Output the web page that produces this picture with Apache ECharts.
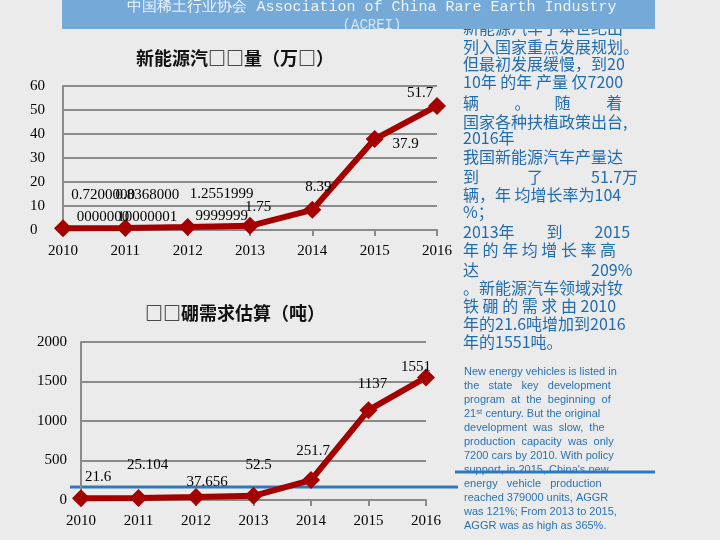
<!DOCTYPE html>
<html><head><meta charset="utf-8">
<script src="https://cdn.jsdelivr.net/npm/echarts@6/dist/echarts.min.js"></script>
<style>html,body{margin:0;padding:0;background:#ebebeb;}#c{width:720px;height:540px;}</style>
</head><body><div id="c"></div>
<script>
const years = ['2010','2011','2012','2013','2014','2015','2016'];
const evOutput = [0.72, 0.8368, 1.2552, 1.75, 8.39, 37.9, 51.7];
const evLabels = ['0.7200000\n0000000','0.8368000\n10000001','1.2551999\n9999999','1.75','8.39','37.9','51.7'];
const ndfebDemand = [21.6, 25.104, 37.656, 52.5, 251.7, 1137, 1551];
const ndfebLabels = ['21.6','25.104','37.656','52.5','251.7','1137','1551'];
const topTicks = [0,10,20,30,40,50,60];
const botTicks = [0,500,1000,1500,2000];

const evOffsets = [[40,14],[22,14],[34,14],[8,6],[6,2],[31,30],[-17,12]];
const ndOffsets = [[17,4],[9,-8],[11,10],[5,-6],[2,-4],[4,-1],[-10,15]];

const cnLines = [
 ['新能源汽车于本世纪出',28],['列入国家重点发展规划。',47],['但最初发展缓慢，到20',64],['10年 的年 产量 仅7200',82],
 ['辆　　 。　　随　　 着',103],['国家各种扶植政策出台,',122],['2016年',138],['我国新能源汽车产量达',157],
 ['到　　　了　　　51.7万',177],['辆，年 均增长率为104',195],['%；',212],['2013年　　到　　2015',232],
 ['年 的 年 均 增 长 率 高',250],['达　　　　　　　209%',270],['。新能源汽车领域对钕',288],['铁 硼 的 需 求 由 2010',306],
 ['年的21.6吨增加到2016',324],['年的1551吨。',342]
];
const enLines = ['New energy vehicles is listed in','the   state   key   development','program  at  the  beginning  of',
 '21ˢᵗ century. But the original','development  was  slow,  the','production  capacity  was  only',
 '7200 cars by 2010. With policy',"support, in 2015, China's new",'energy   vehicle   production',
 'reached 379000 units, AGGR','was 121%; From 2013 to 2015,','AGGR was as high as 365%.'];

const graphics = [
 {type:'rect',shape:{x:62,y:0,width:593,height:29},style:{fill:'#74a9d8'},z:1},
 {type:'text',x:372,y:7,style:{text:'中国稀土行业协会 Association of China Rare Earth Industry',fill:'#eef4fa',font:'15px "Liberation Mono", monospace',align:'center',verticalAlign:'middle'},z:2},
 {type:'text',x:372,y:25,style:{text:'(ACREI)',fill:'#d8e6f3',font:'14px "Liberation Mono", monospace',align:'center',verticalAlign:'middle'},z:2},
 {type:'text',x:235,y:58,style:{text:'新能源汽□□量（万□）',fill:'#111',font:'bold 18px "Noto Sans CJK SC"',align:'center',verticalAlign:'middle'}},
 {type:'text',x:235,y:313,style:{text:'□□硼需求估算（吨）',fill:'#111',font:'bold 18px "Noto Sans CJK SC"',align:'center',verticalAlign:'middle'}},
 {type:'line',shape:{x1:70,y1:487,x2:458,y2:487},style:{stroke:'#2f78bd',lineWidth:3},z:0},
 {type:'line',shape:{x1:455,y1:472,x2:655,y2:472},style:{stroke:'#2f78bd',lineWidth:3},z:5}
];
cnLines.forEach(([t,y])=>graphics.push({type:'text',x:463,y:y,style:{text:t,fill:'#1f6cb0',font:'16px "Noto Sans CJK SC"',verticalAlign:'middle'}}));
enLines.forEach((t,i)=>graphics.push({type:'text',x:464,y:372+i*14,style:{text:t,fill:'#2a72b5',font:'11px "Liberation Sans"',verticalAlign:'middle'}}));

const gridLine = {show:true,lineStyle:{color:'#8a8a8a',width:2}};
const axisFont = {color:'#000',fontFamily:'Liberation Serif',fontSize:15};
function mkSeries(idx,data,labels,offs){
  return {type:'line',xAxisIndex:idx,yAxisIndex:idx,data:data.map((v,i)=>({value:v,label:{offset:offs[i]}})),
    symbol:'diamond',symbolSize:18,lineStyle:{color:'#a50000',width:6},itemStyle:{color:'#a50000'},
    label:{show:true,position:'top',color:'#000',fontFamily:'Liberation Serif',fontSize:15,lineHeight:22,
      formatter:p=>labels[p.dataIndex]}};
}
const chart = echarts.init(document.getElementById('c'));
chart.setOption({
  backgroundColor:'#ebebeb',animation:false,
  graphic:graphics,
  grid:[{left:63,top:86,width:374,height:144},{left:81,top:342,width:345,height:158}],
  xAxis:[
   {gridIndex:0,type:'category',data:years,boundaryGap:false,axisLine:{lineStyle:{color:'#8a8a8a',width:2}},axisTick:{show:true,length:6,lineStyle:{color:'#8a8a8a',width:2}},axisLabel:{...axisFont,margin:14}},
   {gridIndex:1,type:'category',data:years,boundaryGap:false,axisLine:{lineStyle:{color:'#8a8a8a',width:2}},axisTick:{show:true,length:6,lineStyle:{color:'#8a8a8a',width:2}},axisLabel:{...axisFont,margin:14}}
  ],
  yAxis:[
   {gridIndex:0,type:'value',min:topTicks[0],max:topTicks[topTicks.length-1],interval:10,splitLine:gridLine,axisLine:{show:true,lineStyle:{color:'#8a8a8a',width:2}},axisLabel:{...axisFont,margin:33,align:'left'}},
   {gridIndex:1,type:'value',min:botTicks[0],max:botTicks[botTicks.length-1],interval:500,splitLine:gridLine,axisLine:{show:true,lineStyle:{color:'#8a8a8a',width:2}},axisLabel:{...axisFont,margin:14,formatter:v=>String(v)}}
  ],
  series:[mkSeries(0,evOutput,evLabels,evOffsets),mkSeries(1,ndfebDemand,ndfebLabels,ndOffsets)]
});
</script></body></html>
